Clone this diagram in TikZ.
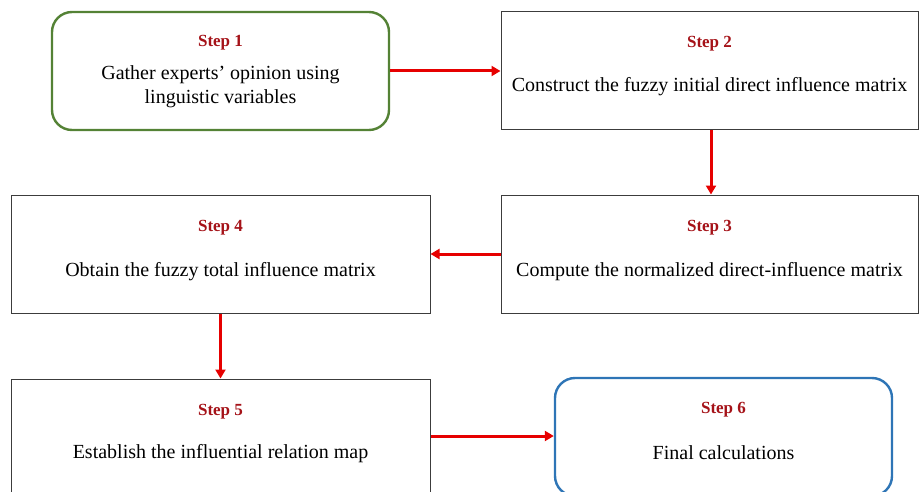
\documentclass[tikz,border=0pt]{standalone}
\usepackage{fontspec}
\setmainfont{Liberation Serif}
\usetikzlibrary{arrows.meta,calc}
\definecolor{boxgray}{RGB}{60,60,60}
\definecolor{stepred}{RGB}{165,18,24}
\definecolor{arrowred}{RGB}{230,0,0}
\definecolor{startgreen}{RGB}{84,130,53}
\definecolor{endblue}{RGB}{46,117,182}
\tikzset{
  stepbox/.style={draw=boxgray, line width=1pt, inner sep=0pt, fill=white},
  roundbox/.style={stepbox, rounded corners=20pt, line width=2.4pt},
  steplabel/.style={font=\fontsize{17}{20}\selectfont\bfseries, text=stepred, inner sep=0pt},
  steptext/.style={font=\fontsize{20}{24}\selectfont, align=center, inner sep=0pt},
  flow/.style={draw=arrowred, line width=3pt, -{Triangle[length=9pt,width=10pt]}}
}
\begin{document}
\begin{tikzpicture}[x=1pt,y=-1pt]
  \useasboundingbox (0,0) rectangle (920,492);
  \clip (0,0) rectangle (920,492);
  % boxes
  \node[roundbox, draw=startgreen, minimum width=337pt, minimum height=118pt] (s1) at (220.5,71) {};
  \node[stepbox, minimum width=417pt, minimum height=117pt] (s2) at (709.5,70.5) {};
  \node[stepbox, minimum width=417pt, minimum height=118pt] (s3) at (709.5,254) {};
  \node[stepbox, minimum width=419pt, minimum height=118pt] (s4) at (220.5,254) {};
  \node[stepbox, minimum width=419pt, minimum height=118pt] (s5) at (220.5,438) {};
  \node[roundbox, draw=endblue, minimum width=337pt, minimum height=118pt] (s6) at (723.5,437) {};
  % labels and descriptions
  \node[steplabel] (l1) at ($(s1.north)+(0,32)$) {Step 1};
  \node[steptext] (t1) at ($(s1.north)+(0,76)$) {Gather experts’ opinion using\\linguistic variables};
  \node[steplabel] (l2) at ($(s2.north)+(0,32)$) {Step 2};
  \node[steptext] (t2) at ($(s2.north)+(0,75)$) {Construct the fuzzy initial direct influence matrix};
  \node[steplabel] (l3) at ($(s3.north)+(0,33)$) {Step 3};
  \node[steptext] (t3) at ($(s3.north)+(0,77)$) {Compute the normalized direct-influence matrix};
  \node[steplabel] (l4) at ($(s4.north)+(0,33)$) {Step 4};
  \node[steptext] (t4) at ($(s4.north)+(0,77)$) {Obtain the fuzzy total influence matrix};
  \node[steplabel] (l5) at ($(s5.north)+(0,33)$) {Step 5};
  \node[steptext] (t5) at ($(s5.north)+(0,75)$) {Establish the influential relation map};
  \node[steplabel] (l6) at ($(s6.north)+(0,33)$) {Step 6};
  \node[steptext] (t6) at ($(s6.north)+(0,76)$) {Final calculations};
  % connectors
  \draw[flow] (s1.east) -- (s1.east -| s2.west);
  \draw[flow] ($(s2.south)+(1.5,0)$) -- ($(s3.north)+(1.5,0)$);
  \draw[flow] (s3.west) -- (s4.east);
  \draw[flow] (s4.south) -- (s5.north);
  \draw[flow] ($(s5.east)+(0,-2)$) -- ($(s5.east -| s6.west)+(0,-2)$);
\end{tikzpicture}
\end{document}
